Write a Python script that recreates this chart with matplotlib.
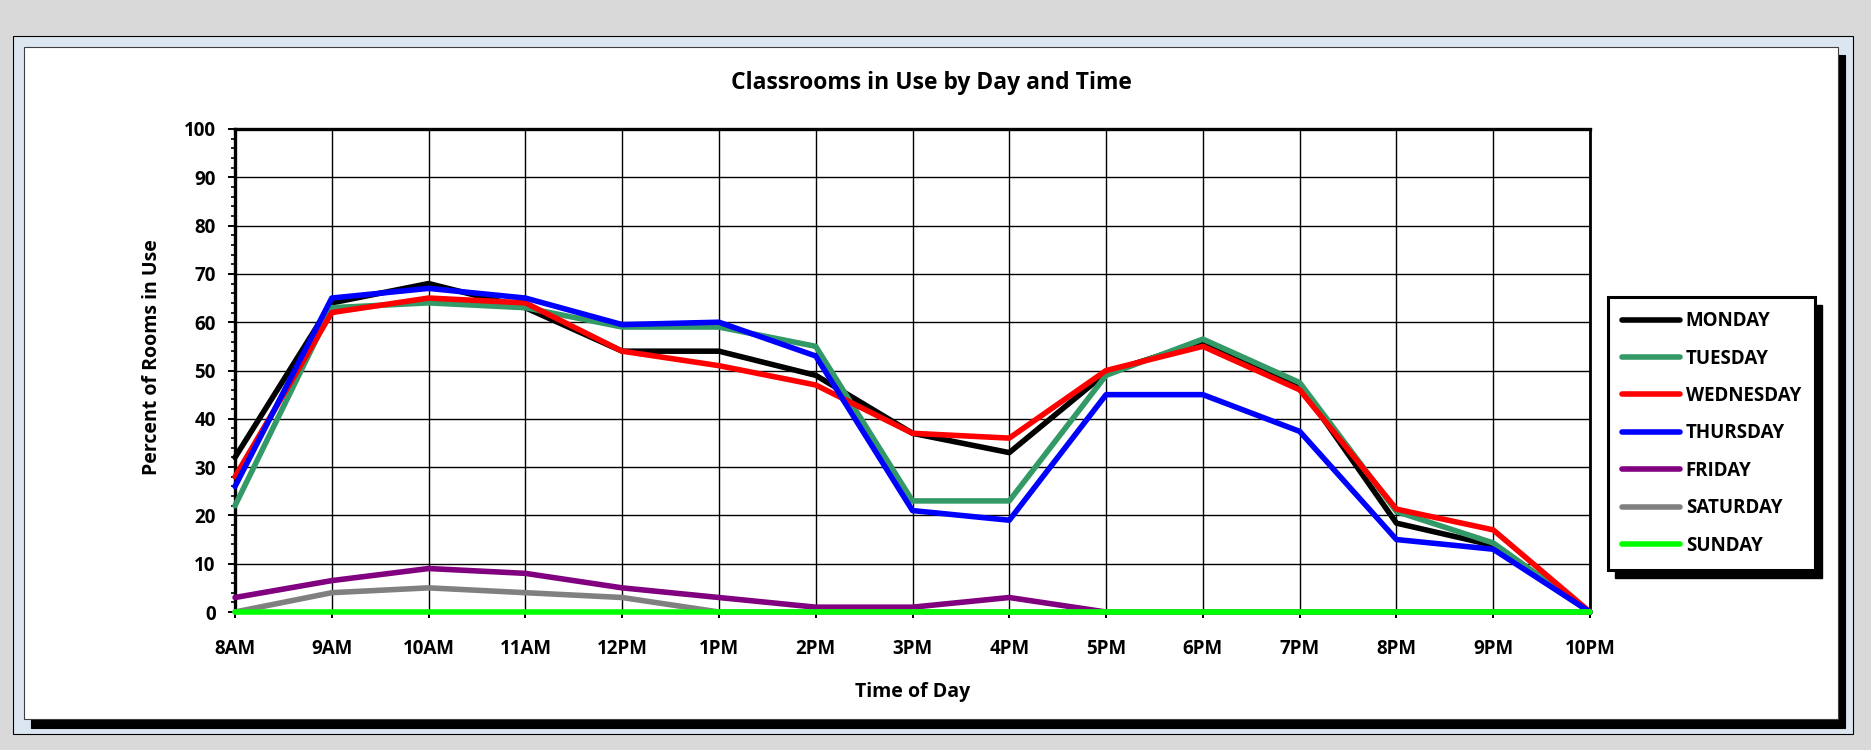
import matplotlib
matplotlib.use('Agg')
import matplotlib.pyplot as plt
from matplotlib.patches import Rectangle
from matplotlib.ticker import MultipleLocator
import numpy as np

times = ['8AM', '9AM', '10AM', '11AM', '12PM', '1PM', '2PM', '3PM',
         '4PM', '5PM', '6PM', '7PM', '8PM', '9PM', '10PM']

monday = [32, 64, 68, 63, 54, 54, 49, 37, 33, 49.5, 56, 47, 18.4, 13.8, 0]
tuesday = [22, 63, 64, 63, 59, 59, 55, 23, 23, 49, 56.5, 47.5, 20.8, 14.3, 0]
wednesday = [28, 62, 65, 64, 54, 51, 47, 37, 36, 50, 55, 46, 21.3, 17, 0]
thursday = [26, 65, 67, 65, 59.5, 60, 53, 21, 19, 45, 45, 37.4, 15, 13, 0]
friday = [3, 6.5, 9, 8, 5, 3, 1, 1, 3, 0, 0, 0, 0, 0, 0]
saturday = [0, 4, 5, 4, 3, 0, 0, 0, 0, 0, 0, 0, 0, 0, 0]
sunday = [0, 0, 0, 0, 0, 0, 0, 0, 0, 0, 0, 0, 0, 0, 0]

days = ['MONDAY', 'TUESDAY', 'WEDNESDAY', 'THURSDAY', 'FRIDAY', 'SATURDAY', 'SUNDAY']
series = [monday, tuesday, wednesday, thursday, friday, saturday, sunday]
colors = ['#000000', '#339966', '#ff0000', '#0000ff', '#800080', '#808080', '#00ff00']

W, H = 1871, 750

plt.rcParams['font.family'] = ['Open Sans', 'DejaVu Sans']
plt.rcParams['font.weight'] = 'bold'


def box(x0, y0, x1, y1):
    # pixel box (top-left origin) -> figure fractions
    return (x0 / W, 1 - y1 / H), (x1 - x0) / W, (y1 - y0) / H


fig = plt.figure(figsize=(W / 100, H / 100), dpi=100, facecolor='#d9d9d9')

# chart frame: outer bluish border, black drop shadow, white chart area
for (x0, y0, x1, y1), fc, ec, z in [((13, 36, 1853, 734), '#dce6f1', 'black', -4),
                                    ((31, 55, 1845, 728), 'black', 'black', -3),
                                    ((24, 47, 1838, 719), 'white', '#404040', -2)]:
    xy, w, h = box(x0, y0, x1, y1)
    fig.patches.append(Rectangle(xy, w, h, transform=fig.transFigure,
                                 facecolor=fc, edgecolor=ec, lw=0.8, zorder=z))

ax = fig.add_axes([235 / W, 1 - 612 / H, (1590 - 235) / W, (612 - 129) / H])

x = np.arange(len(times))
for day, vals, c in zip(days, series, colors):
    ax.plot(x, vals, color=c, lw=4.0, label=day, clip_on=False,
            solid_capstyle='round', zorder=3)

ax.set_xlim(0, len(times) - 1)
ax.set_ylim(0, 100)
ax.set_xticks(x)
ax.set_xticklabels(times)
ax.set_yticks(np.arange(0, 101, 10))
ax.yaxis.set_minor_locator(MultipleLocator(2))
ax.grid(True, which='major', color='black', lw=1.0)
ax.set_axisbelow(True)

ax.tick_params(axis='y', which='major', length=5, width=1.4, pad=9, labelsize=13.5)
ax.tick_params(axis='y', which='minor', length=3, width=1.2)
ax.tick_params(axis='x', which='major', length=4.5, width=1.4, pad=15, labelsize=13.5)

ax.spines['left'].set_linewidth(2.4)
ax.spines['top'].set_linewidth(2.4)
ax.spines['right'].set_linewidth(2.0)
ax.spines['bottom'].set_linewidth(1.5)

ax.set_xlabel('Time of Day', fontsize=14, fontweight='bold')
ax.xaxis.set_label_coords(0.5, -70 / 483)
ax.set_ylabel('Percent of Rooms in Use', fontsize=14, fontweight='bold')
ax.yaxis.set_label_coords(-73 / 1355, (612 - 357) / 483)

fig.text(931 / W, 1 - 89 / H, 'Classrooms in Use by Day and Time',
         ha='center', va='baseline', fontsize=16.5, fontweight='bold')

leg = ax.legend(loc='upper left', bbox_to_anchor=(1608 / W, 1 - 297 / H),
                bbox_transform=fig.transFigure, borderaxespad=0,
                fancybox=False, edgecolor='black', framealpha=1,
                handlelength=3.1, handletextpad=0.3, borderpad=0.75,
                labelspacing=0.93, prop={'size': 13.5, 'weight': 'bold'})
leg.get_frame().set_linewidth(2.2)

# black shadow behind the legend box
fig.canvas.draw()
bb = leg.get_window_extent().transformed(fig.transFigure.inverted())
fig.patches.append(Rectangle((bb.x0 + 7 / W, bb.y0 - 8 / H), bb.width, bb.height,
                             transform=fig.transFigure, facecolor='black',
                             edgecolor='black', zorder=-1))

fig.savefig('out.png', dpi=100, facecolor=fig.get_facecolor())
